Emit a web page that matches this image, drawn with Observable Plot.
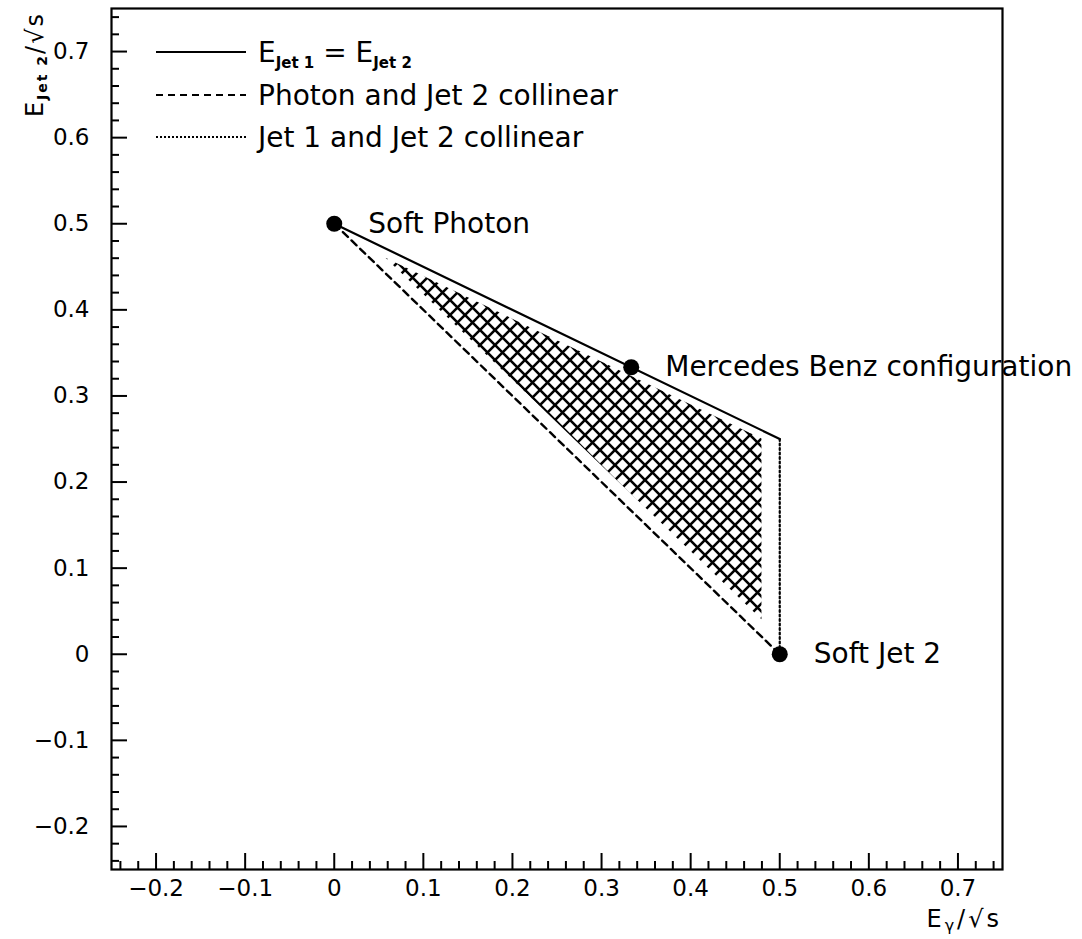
<!DOCTYPE html>
<html><head><meta charset="utf-8">
<script src="https://cdn.jsdelivr.net/npm/d3@7"></script>
<script src="https://cdn.jsdelivr.net/npm/@observablehq/plot@0.6"></script>
<style>
body{margin:0;background:#fff;}
svg text{font-family:"DejaVu Sans",sans-serif;}
</style>
</head><body><div id="chart"></div>
<script>
// Axis ticks
const xMajor = [-0.2,-0.1,0,0.1,0.2,0.3,0.4,0.5,0.6,0.7];
const yMajor = [-0.2,-0.1,0,0.1,0.2,0.3,0.4,0.5,0.6,0.7];
const minorTicks = [-0.24,-0.22,-0.18,-0.16,-0.14,-0.12,-0.08,-0.06,-0.04,-0.02,
  0.02,0.04,0.06,0.08,0.12,0.14,0.16,0.18,0.22,0.24,0.26,0.28,0.32,0.34,0.36,0.38,
  0.42,0.44,0.46,0.48,0.52,0.54,0.56,0.58,0.62,0.64,0.66,0.68,0.72,0.74];

// Boundary lines
const solidX = [0, 0.5];   const solidY = [0.5, 0.25];   // E_Jet1 = E_Jet2
const dashX  = [0, 0.5];   const dashY  = [0.5, 0];      // Photon and Jet 2 collinear
const dotX   = [0.5, 0.5]; const dotY   = [0.25, 0];     // Jet 1 and Jet 2 collinear

// Hatched (allowed) region
const hatchX    = [0.058, 0.48];
const hatchLow  = [0.46, 0.04];
const hatchHigh = [0.46, 0.25];

// Special points
const pointX = [0, 0.3333, 0.5];
const pointY = [0.5, 0.3333, 0];
const pointLabel = ["Soft Photon", "Mercedes Benz configuration", "Soft Jet 2"];

const fmt = d => d3.format("")(d);
const hIdx = d3.range(hatchX.length);

const plot = Plot.plot({
  width: 1082, height: 939,
  marginLeft: 111, marginRight: 80, marginTop: 8, marginBottom: 70,
  style: {fontFamily: "DejaVu Sans", fontSize: "23px", color: "black", background: "white"},
  x: {domain: [-0.25, 0.75], axis: null},
  y: {domain: [-0.25, 0.75], axis: null},
  marks: [
    Plot.areaY(hIdx, {x: i => hatchX[i], y1: i => hatchLow[i], y2: i => hatchHigh[i], fill: "url(#xhatch)"}),
    Plot.line(solidX.map((x, i) => [x, solidY[i]]), {stroke: "black", strokeWidth: 2.2}),
    Plot.line(dashX.map((x, i) => [x, dashY[i]]), {stroke: "black", strokeWidth: 2.4, strokeDasharray: "7,5"}),
    Plot.line(dotX.map((x, i) => [x, dotY[i]]), {stroke: "black", strokeWidth: 2.2, strokeDasharray: "2,2.5"}),
    Plot.dot(pointLabel, {x: (d, i) => pointX[i], y: (d, i) => pointY[i], r: 8, fill: "black", stroke: "none"}),
    Plot.text(pointLabel, {x: (d, i) => pointX[i], y: (d, i) => pointY[i], text: d => d, dx: 34, textAnchor: "start", fontSize: 28, lineAnchor: "middle"}),
    // ticks (inward)
    Plot.axisX(xMajor, {anchor: "bottom", tickSize: -16, tickFormat: () => "", strokeWidth: 2}),
    Plot.axisX(minorTicks, {anchor: "bottom", tickSize: -8, tickFormat: () => "", strokeWidth: 2}),
    Plot.axisY(yMajor, {anchor: "left", tickSize: -16, tickFormat: () => "", strokeWidth: 2}),
    Plot.axisY(minorTicks, {anchor: "left", tickSize: -8, tickFormat: () => "", strokeWidth: 2}),
    // tick labels
    Plot.axisX(xMajor, {anchor: "bottom", tickSize: 0, tickPadding: 10, tickFormat: fmt, label: null, fontSize: 23}),
    Plot.axisY(yMajor, {anchor: "left", tickSize: 0, tickPadding: 22, tickFormat: fmt, label: null, fontSize: 23}),
    Plot.frame({stroke: "black", strokeWidth: 2.2})
  ]
});

const svg = d3.select(plot);
// cross-hatch pattern
const S = 15;
const defs = svg.insert("defs", ":first-child");
const pat = defs.append("pattern").attr("id", "xhatch").attr("patternUnits", "userSpaceOnUse")
  .attr("width", S).attr("height", S);
pat.append("path")
  .attr("d", `M-1,-1L${S+1},${S+1}M${S+1},-1L-1,${S+1}M-2,2L2,-2M${S-2},${S+2}L${S+2},${S-2}M-2,${S-2}L2,${S+2}M${S-2},-2L${S+2},2`)
  .attr("stroke", "black").attr("stroke-width", 2.6).attr("fill", "none");

// legend
const legend = svg.append("g").attr("font-size", 28).attr("fill", "black").attr("text-anchor", "start");
const rows = [
  {y: 52, dash: null},
  {y: 95, dash: "7,5"},
  {y: 137, dash: "2,2"}
];
rows.forEach(r => {
  legend.append("line").attr("x1", 156).attr("x2", 246).attr("y1", r.y).attr("y2", r.y)
    .attr("stroke", "black").attr("stroke-width", 2).attr("stroke-dasharray", r.dash);
});
const t1 = legend.append("text").attr("x", 258).attr("y", 52).attr("dy", "0.36em");
t1.append("tspan").text("E");
t1.append("tspan").attr("font-size", 15).attr("font-weight", "bold").attr("dy", 6).text("Jet 1");
t1.append("tspan").attr("dy", -6).text(" = E");
t1.append("tspan").attr("font-size", 15).attr("font-weight", "bold").attr("dy", 6).text("Jet 2");
legend.append("text").attr("x", 258).attr("y", 95).attr("dy", "0.36em").text("Photon and Jet 2 collinear");
legend.append("text").attr("x", 258).attr("y", 137).attr("dy", "0.36em").text("Jet 1 and Jet 2 collinear");

// axis labels
const xl = svg.append("text").attr("x", 1002).attr("y", 927).attr("text-anchor", "end")
  .attr("font-size", 24).attr("letter-spacing", 3).attr("fill", "black");
xl.append("tspan").text("E");
xl.append("tspan").attr("font-size", 16).attr("dy", 4).text("γ");
xl.append("tspan").attr("dy", -4).text("/√s");

const yl = svg.append("text").attr("transform", "translate(43,12) rotate(-90)").attr("text-anchor", "end")
  .attr("font-size", 24).attr("letter-spacing", 2).attr("fill", "black");
yl.append("tspan").text("E");
yl.append("tspan").attr("font-size", 14).attr("font-weight", "bold").attr("dy", 4).text("Jet 2");
yl.append("tspan").attr("dy", -4).text("/√s");

document.getElementById("chart").appendChild(plot);
</script>
</body></html>
